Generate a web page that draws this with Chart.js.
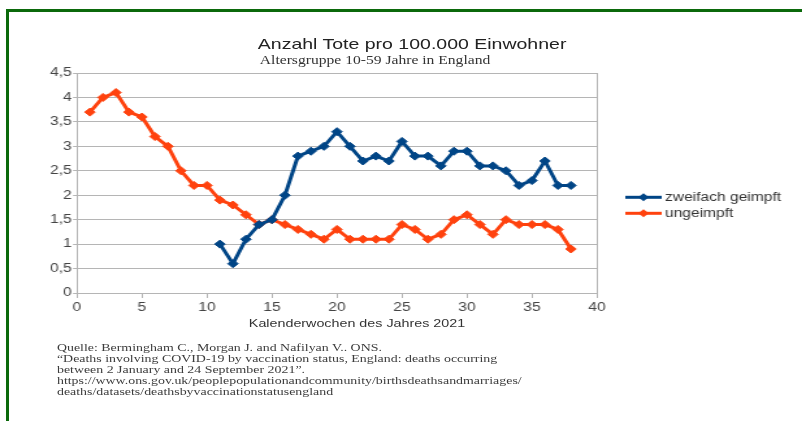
<!DOCTYPE html>
<html>
<head>
<meta charset="utf-8">
<script src="https://cdn.jsdelivr.net/npm/chart.js@4/dist/chart.umd.min.js"></script>
<style>
html,body{margin:0;padding:0;background:#fff;width:802px;height:421px;overflow:hidden;}
#frame{position:absolute;left:6px;top:9px;width:900px;height:500px;border-top:3px solid #0b690b;border-left:3px solid #0b690b;}
#wrap{position:absolute;left:0;top:0;width:617px;height:421px;transform:scaleX(1.3);transform-origin:0 0;}
canvas{position:absolute;left:0;top:0;}
.t{position:absolute;white-space:nowrap;}
.c{transform:translateX(-50%);}
#title{left:317px;top:35.8px;font:15px/15px "Liberation Sans",Arial,sans-serif;color:#222;}
#subtitle{left:288.5px;top:54.2px;font:12px/12px "Liberation Serif","Times New Roman",serif;color:#333;}
#xtitle{left:274.6px;top:318px;font:11px/11px "Liberation Sans",Arial,sans-serif;color:#333;}
#note{left:43.8px;top:342px;font:10.7px/11px "Liberation Serif","Times New Roman",serif;color:#3c3c3c;}
</style>
</head>
<body>
<div id="frame"></div>
<div id="wrap">
  <canvas id="chart" width="617" height="421"></canvas>
  <div class="t c" id="title">Anzahl Tote pro 100.000 Einwohner</div>
  <div class="t c" id="subtitle">Altersgruppe 10-59 Jahre in England</div>
  <div class="t c" id="xtitle">Kalenderwochen des Jahres 2021</div>
  <div class="t" id="note">Quelle: Bermingham C., Morgan J. and Nafilyan V.. ONS.<br>“Deaths involving COVID-19 by vaccination status, England: deaths occurring<br>between 2 January and 24 September 2021”.<br>https://www.ons.gov.uk/peoplepopulationandcommunity/birthsdeathsandmarriages/<br>deaths/datasets/deathsbyvaccinationstatusengland</div>
</div>
<script>
const weeks = [1,2,3,4,5,6,7,8,9,10,11,12,13,14,15,16,17,18,19,20,21,22,23,24,25,26,27,28,29,30,31,32,33,34,35,36,37,38];
const ungeimpft = [3.7,4.0,4.1,3.7,3.6,3.2,3.0,2.5,2.2,2.2,1.9,1.8,1.6,1.4,1.5,1.4,1.3,1.2,1.1,1.3,1.1,1.1,1.1,1.1,1.4,1.3,1.1,1.2,1.5,1.6,1.4,1.2,1.5,1.4,1.4,1.4,1.3,0.9];
const zweifach = [null,null,null,null,null,null,null,null,null,null,1.0,0.6,1.1,1.4,1.5,2.0,2.8,2.9,3.0,3.3,3.0,2.7,2.8,2.7,3.1,2.8,2.8,2.6,2.9,2.9,2.6,2.6,2.5,2.2,2.3,2.7,2.2,2.2];
const seriesNames = ['zweifach geimpft','ungeimpft'];
const seriesColors = ['#004586','#ff420e'];

const gridColor = '#b5b5b5';

const sideLegend = {
  id: 'sideLegend',
  afterDraw(chart) {
    const ctx = chart.ctx;
    chart.data.datasets.forEach((ds, i) => {
      const y = 197.3 + 16 * i;
      ctx.save();
      ctx.strokeStyle = ds.borderColor;
      ctx.lineWidth = 3;
      ctx.beginPath();
      ctx.moveTo(481, y);
      ctx.lineTo(509, y);
      ctx.stroke();
      ctx.fillStyle = ds.pointBackgroundColor;
      ctx.beginPath();
      const r = 4, cx = 495;
      ctx.moveTo(cx - r, y); ctx.lineTo(cx, y - r); ctx.lineTo(cx + r, y); ctx.lineTo(cx, y + r); ctx.closePath();
      ctx.fill();
      ctx.font = '12px "Liberation Sans", Arial, sans-serif';
      ctx.fillStyle = '#333';
      ctx.textBaseline = 'middle';
      ctx.textAlign = 'left';
      ctx.fillText(ds.label, 511.5, y + 0.5);
      ctx.restore();
    });
  }
};

function mkSeries(values, idx) {
  return {
    label: seriesNames[idx],
    data: weeks.map((w, i) => ({x: w, y: values[i]})),
    borderColor: seriesColors[idx],
    backgroundColor: seriesColors[idx],
    pointBackgroundColor: seriesColors[idx],
    pointBorderColor: seriesColors[idx],
    borderWidth: 3,
    pointStyle: 'rectRot',
    pointRadius: 4,
    pointBorderWidth: 1,
    tension: 0,
    spanGaps: false
  };
}

Chart.defaults.font.family = '"Liberation Sans", Arial, sans-serif';
Chart.defaults.font.size = 12;
Chart.defaults.color = '#444';

new Chart(document.getElementById('chart'), {
  type: 'line',
  data: { datasets: [mkSeries(zweifach, 0), mkSeries(ungeimpft, 1)] },
  options: {
    responsive: false,
    animation: false,
    devicePixelRatio: 1,
    layout: { padding: { left: 29.2, right: 157.8, top: 73, bottom: 108 } },
    plugins: { legend: { display: false }, title: { display: false }, tooltip: { enabled: false } },
    scales: {
      x: {
        type: 'linear', min: 0, max: 40,
        afterFit(s) { s.height = 20; },
        ticks: { stepSize: 5, padding: 2, color: '#444' },
        grid: {
          color: c => (c.tick && c.tick.value === 40) ? gridColor : 'rgba(0,0,0,0)',
          tickColor: gridColor, tickLength: 5, lineWidth: 1
        },
        border: { color: gridColor }
      },
      y: {
        type: 'linear', min: 0, max: 4.5,
        afterFit(s) { s.width = 30; },
        ticks: { stepSize: 0.5, padding: 1, color: '#444', callback: v => String(v).replace('.', ',') },
        grid: { color: gridColor, tickColor: gridColor, tickLength: 3, lineWidth: 1 },
        border: { color: gridColor }
      }
    }
  },
  plugins: [sideLegend]
});
</script>
</body>
</html>
